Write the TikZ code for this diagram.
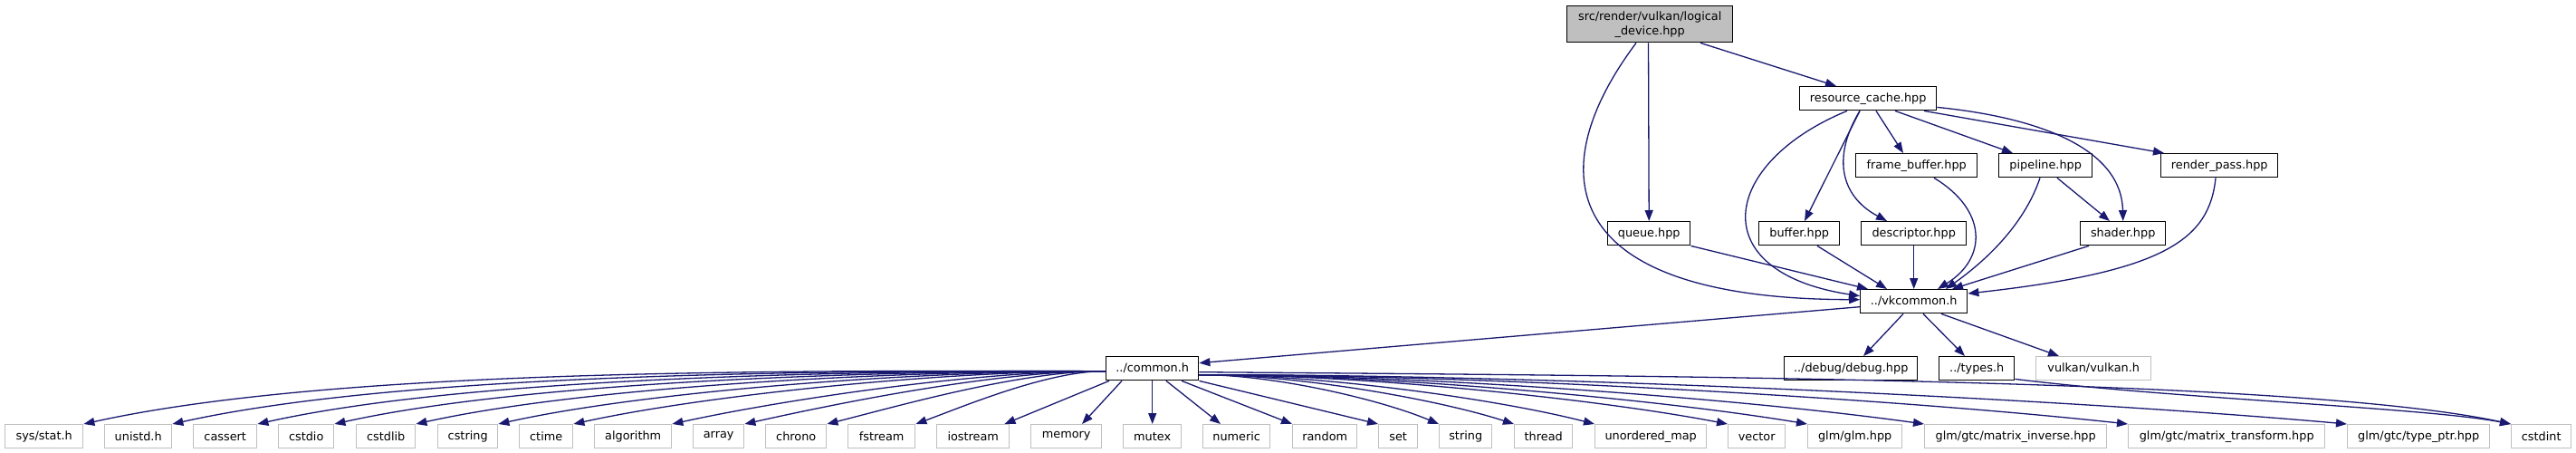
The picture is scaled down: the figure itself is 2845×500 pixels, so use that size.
\documentclass[tikz,border=0pt]{standalone}
\usepackage{fontspec}
\setmainfont{DejaVu Sans}
\usetikzlibrary{arrows.meta}
\definecolor{edgec}{RGB}{25,25,112}
\definecolor{grayb}{RGB}{191,191,191}
\begin{document}
\begin{tikzpicture}[x=1pt,y=-1pt,
  box/.style={draw=black,line width=1.4pt,inner sep=0pt,anchor=north west,minimum height=26pt,font=\fontsize{12.84}{16}\selectfont,align=center},
  sysbox/.style={box,draw=grayb},
  edge/.style={draw=edgec,line width=1.3pt,-{Triangle[length=12pt,width=9pt]}},
]
\useasboundingbox (0,0) rectangle (2845,500);
% project files
\node[box,fill=grayb,minimum width=183pt,minimum height=40pt] (root) at (1730,6) {src/render/vulkan/logical\\\_device.hpp};
\node[box,minimum width=151pt] (rc) at (1987,95) {resource\_cache.hpp};
\node[box,minimum width=134pt] (fb) at (2049,169) {frame\_buffer.hpp};
\node[box,minimum width=103pt] (pl) at (2207,169) {pipeline.hpp};
\node[box,minimum width=129pt] (rp) at (2386,169) {render\_pass.hpp};
\node[box,minimum width=91pt] (qu) at (1775,244) {queue.hpp};
\node[box,minimum width=89pt] (bu) at (1942,244) {buffer.hpp};
\node[box,minimum width=116pt] (de) at (2055,244) {descriptor.hpp};
\node[box,minimum width=94pt] (sh) at (2297,244) {shader.hpp};
\node[box,minimum width=118pt] (vk) at (2054,319) {../vkcommon.h};
\node[box,minimum width=102pt] (co) at (1221,393) {../common.h};
\node[box,minimum width=147pt] (db) at (1970,393) {../debug/debug.hpp};
\node[box,minimum width=83pt] (ty) at (2141,393) {../types.h};
\node[sysbox,minimum width=127pt] (vu) at (2248,393) {vulkan/vulkan.h};
% system headers
\node[sysbox,minimum width=86pt] (sysstat) at (5,468) {sys/stat.h};
\node[sysbox,minimum width=74pt] (unistd) at (115,468) {unistd.h};
\node[sysbox,minimum width=70pt] (cassert) at (213,468) {cassert};
\node[sysbox,minimum width=61pt] (cstdio) at (307,468) {cstdio};
\node[sysbox,minimum width=65pt] (cstdlib) at (393,468) {cstdlib};
\node[sysbox,minimum width=66pt] (cstring) at (483,468) {cstring};
\node[sysbox,minimum width=59pt] (ctime) at (573,468) {ctime};
\node[sysbox,minimum width=85pt] (algorithm) at (656,468) {algorithm};
\node[sysbox,minimum width=56pt] (array) at (765,468) {array};
\node[sysbox,minimum width=67pt] (chrono) at (845,468) {chrono};
\node[sysbox,minimum width=74pt] (fstream) at (936,468) {fstream};
\node[sysbox,minimum width=80pt] (iostream) at (1034,468) {iostream};
\node[sysbox,minimum width=78pt] (memory) at (1138,468) {memory};
\node[sysbox,minimum width=64pt] (mutex) at (1240,468) {mutex};
\node[sysbox,minimum width=74pt] (numeric) at (1328,468) {numeric};
\node[sysbox,minimum width=71pt] (random) at (1427,468) {random};
\node[sysbox,minimum width=43pt] (set) at (1522,468) {set};
\node[sysbox,minimum width=58pt] (string) at (1589,468) {string};
\node[sysbox,minimum width=64pt] (thread) at (1672,468) {thread};
\node[sysbox,minimum width=123pt] (umap) at (1761,468) {unordered\_map};
\node[sysbox,minimum width=63pt] (vector) at (1908,468) {vector};
\node[sysbox,minimum width=104pt] (glm) at (1996,468) {glm/glm.hpp};
\node[sysbox,minimum width=201pt] (ginv) at (2125,468) {glm/gtc/matrix\_inverse.hpp};
\node[sysbox,minimum width=217pt] (gtrans) at (2350,468) {glm/gtc/matrix\_transform.hpp};
\node[sysbox,minimum width=157pt] (gptr) at (2592,468) {glm/gtc/type\_ptr.hpp};
\node[sysbox,minimum width=66pt] (cstdint) at (2773,468) {cstdint};
% edges from root
\draw[edge] ([xshift=148pt]root.south west) -- ([xshift=41pt]rc.north west);
\draw[edge] ([xshift=90.5pt]root.south west) -- (qu.north);
\draw[edge] ([xshift=77pt]root.south west) .. controls (1700,190) and (1720,330) .. ([yshift=2pt]vk.west);
% edges from resource_cache
\draw[edge] ([xshift=85pt]rc.south west) -- ([xshift=53pt]fb.north west);
\draw[edge] ([xshift=106pt]rc.south west) -- ([xshift=16pt]pl.north west);
\draw[edge] ([xshift=138pt]rc.south west) -- ([xshift=4pt]rp.north west);
\draw[edge] ([yshift=4pt]rc.south east) .. controls (2255,130) and (2343,165) .. (sh.north);
\draw[edge] ([xshift=67pt]rc.south west) -- ([xshift=51pt]bu.north west);
\draw[edge] ([xshift=67pt]rc.south west) .. controls (2025,170) and (2030,215) .. ([xshift=29pt]de.north west);
\draw[edge] ([xshift=53pt]rc.south west) .. controls (1900,180) and (1880,300) .. ([yshift=6pt]vk.west);
% into vkcommon
\draw[edge] (qu.south east) -- ([xshift=9pt]vk.north west);
\draw[edge] ([xshift=65pt]bu.south west) -- ([xshift=30pt]vk.north west);
\draw[edge] (de.south) -- (vk.north);
\draw[edge] ([xshift=87pt]fb.south west) .. controls (2195,232) and (2195,285) .. ([xshift=86pt]vk.north west);
\draw[edge] ([xshift=46pt]pl.south west) .. controls (2235,250) and (2190,290) .. ([xshift=95pt]vk.north west);
\draw[edge] ([xshift=65pt]pl.south west) -- ([xshift=33pt]sh.north west);
\draw[edge] ([xshift=10pt]sh.south west) -- ([xshift=102pt]vk.north west);
\draw[edge] ([xshift=61pt]rp.south west) .. controls (2440,265) and (2390,300) .. ([yshift=-5pt]vk.north east);
% from vkcommon
\draw[edge] ([yshift=-6pt]vk.west) -- ([yshift=6pt]co.east);
\draw[edge] ([xshift=48pt]vk.south west) -- ([xshift=88pt]db.north west);
\draw[edge] ([xshift=70pt]vk.south west) -- ([xshift=29pt]ty.north west);
\draw[edge] ([xshift=90pt]vk.south west) -- ([xshift=26pt]vu.north west);
% to cstdint
\draw[edge] ([yshift=2pt]ty.south east) .. controls (2400,440) and (2680,450) .. (cstdint.north west);
\draw[edge] ([yshift=-4pt]co.east) .. controls (1900,415) and (2550,420) .. (cstdint.north west);
% from common.h, left fan
\foreach \nm/\ca/\cb/\cy in {sysstat/882/373/406, unistd/911/447/411, cassert/940/518/416, cstdio/965/581/421, cstdlib/992/649/426, cstring/1019/717/431, ctime/1044/779/436, algorithm/1077/861/442, array/1101/921/446, chrono/1128/989/449, fstream/1158/1063/449}
  \draw[edge] ([yshift=-3pt]co.west) .. controls (\ca,409) and (\cb,\cy) .. (\nm.north east);
\draw[edge] ([xshift=4pt]co.south west) -- ([xshift=-6pt]iostream.north east);
\draw[edge] ([xshift=18pt]co.south west) -- ([xshift=57pt]memory.north west);
\draw[edge] (co.south) -- (mutex.north);
\draw[edge] ([xshift=67pt]co.south west) -- ([xshift=20pt]numeric.north west);
\draw[edge] ([xshift=84pt]co.south west) -- (random.north west);
\draw[edge] (co.south east) -- (set.north west);
% from common.h, right fan
\foreach \nm/\ca/\cb in {string/1403/1522, thread/1428/1585, umap/1454/1652, vector/1499/1762, glm/1525/1828, ginv/1564/1925, gtrans/1631/2093, gptr/1704/2275}
  \draw[edge] ([yshift=-7pt]co.east) .. controls (\ca,413) and (\cb,440) .. (\nm.north west);
\end{tikzpicture}
\end{document}
